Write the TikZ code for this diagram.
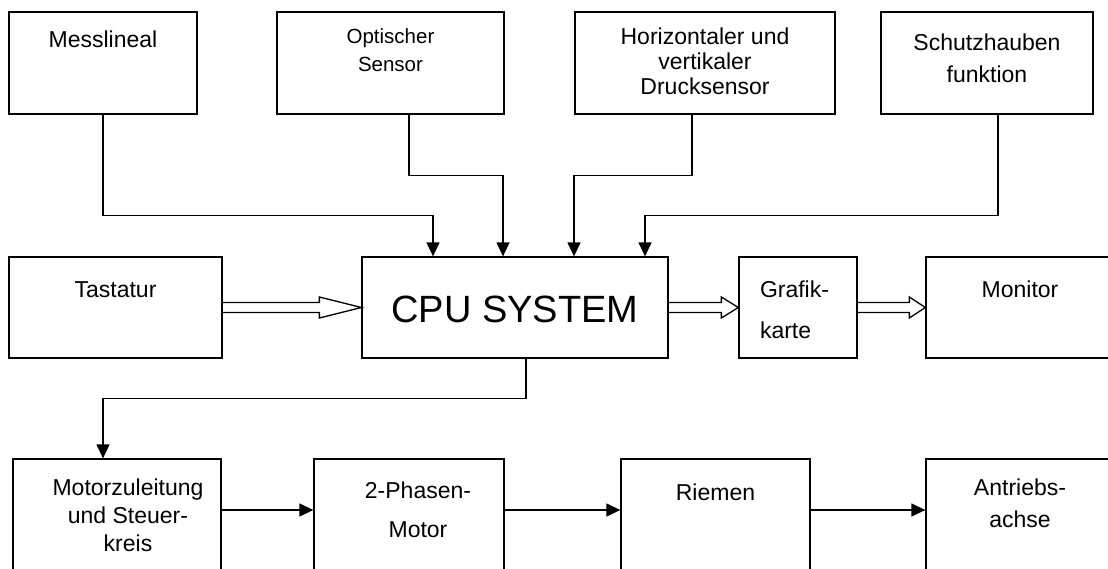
\documentclass[tikz,border=0pt]{standalone}
\usepackage{fontspec}
\setmainfont{Liberation Sans}
\usetikzlibrary{arrows.meta,calc}

% Block body: width, height, first baseline below the top edge, layout, text
\newcommand\blocktext[5]{%
  \parbox[c][#2pt][t]{#1pt}{#4\rule{0pt}{#3pt}#5}}
\newcommand\ctr[1]{\centering\fontsize{23}{#1}\selectfont}

% Hollow double-line arrow from the east side of #1 to the west side of #2,
% head length #3
\newcommand\hollowarrow[3]{%
  \draw[hol] ($(#1.east)+(0,-5)$) -- ($(#2.west)+(-#3,-5)$)
    -- ($(#2.west)+(-#3,-10.5)$) -- (#2.west)
    -- ($(#2.west)+(-#3,10.5)$) -- ($(#2.west)+(-#3,5)$)
    -- ($(#1.east)+(0,5)$);}

\begin{document}
\begin{tikzpicture}[x=1pt,y=-1pt,
  blk/.style={draw,line width=1.3pt,inner sep=0pt},
  conn/.style={line width=1.3pt,-{Triangle[length=14pt,width=13pt]}},
  hol/.style={line width=1.3pt,line join=miter}]
\useasboundingbox (0,0) rectangle (1108,568);
\fill[white] (0,0) rectangle (1108,568);
\clip (0,0) rectangle (1108,568);

% sensors and inputs
\node[blk] (mess) at (103,63)
  {\blocktext{188}{102}{35}{\ctr{24}}{Messlineal}};
\node[blk] (opt) at (390.5,63)
  {\blocktext{227}{102}{31}{\centering\fontsize{20.5}{28}\selectfont}{Optischer\\Sensor}};
\node[blk] (horiz) at (705,63)
  {\blocktext{260}{102}{32}{\ctr{25}}{Horizontaler und\\vertikaler\\Drucksensor}};
\node[blk] (schutz) at (987,63)
  {\blocktext{212}{102}{38}{\ctr{32}}{Schutzhauben\\funktion}};

% middle row
\node[blk] (tast) at (115.5,307.5)
  {\blocktext{213}{101}{40}{\ctr{24}}{Tastatur}};
\node[blk] (cpu) at (515,307.5)
  {\blocktext{306}{101}{65}{\centering\fontsize{38}{42}\selectfont}{CPU SYSTEM}};
\node[blk] (grafik) at (798,307.5)
  {\blocktext{118}{101}{40}{\raggedright\leftskip=21pt\fontsize{23}{41}\selectfont}{Grafik-\\karte}};
\node[blk] (monitor) at (1020,307.5)
  {\blocktext{188}{101}{40}{\ctr{24}}{Monitor}};

% drive chain
\node[blk] (motor) at (117,519.5)
  {\blocktext{208}{121}{36}{\ctr{28}\leftskip=22pt plus 1fil}{Motorzuleitung\\und Steuer-\\kreis}};
\node[blk] (phase) at (409,519.5)
  {\blocktext{190}{121}{39}{\ctr{39}\leftskip=18pt plus 1fil}{2-Phasen-\\Motor}};
\node[blk] (riemen) at (715.5,519.5)
  {\blocktext{189}{121}{41}{\ctr{24}}{Riemen}};
\node[blk] (antrieb) at (1020,519.5)
  {\blocktext{188}{121}{36}{\ctr{32}}{Antriebs-\\achse}};

% signal lines into the CPU
\draw[conn] (mess.south) -- ++(0,101) -| ([xshift=-82pt]cpu.north);
\draw[conn] ([xshift=18.5pt]opt.south) -- ++(0,61) -| ([xshift=-12pt]cpu.north);
\draw[conn] ([xshift=-13pt]horiz.south) -- ++(0,61) -| ([xshift=59pt]cpu.north);
\draw[conn] ([xshift=11pt]schutz.south) -- ++(0,101) -| ([xshift=130pt]cpu.north);

% data paths
\hollowarrow{tast}{cpu}{42}
\hollowarrow{cpu}{grafik}{17}
\hollowarrow{grafik}{monitor}{16}

% CPU to motor control and drive chain
\draw[conn] ([xshift=11pt]cpu.south) -- ++(0,40) -| ([xshift=-14pt]motor.north);
\draw[conn] ([yshift=9.5pt]motor.east) -- ([yshift=9.5pt]phase.west);
\draw[conn] ([yshift=9.5pt]phase.east) -- ([yshift=9.5pt]riemen.west);
\draw[conn] ([yshift=9.5pt]riemen.east) -- ([yshift=9.5pt]antrieb.west);
\end{tikzpicture}
\end{document}
